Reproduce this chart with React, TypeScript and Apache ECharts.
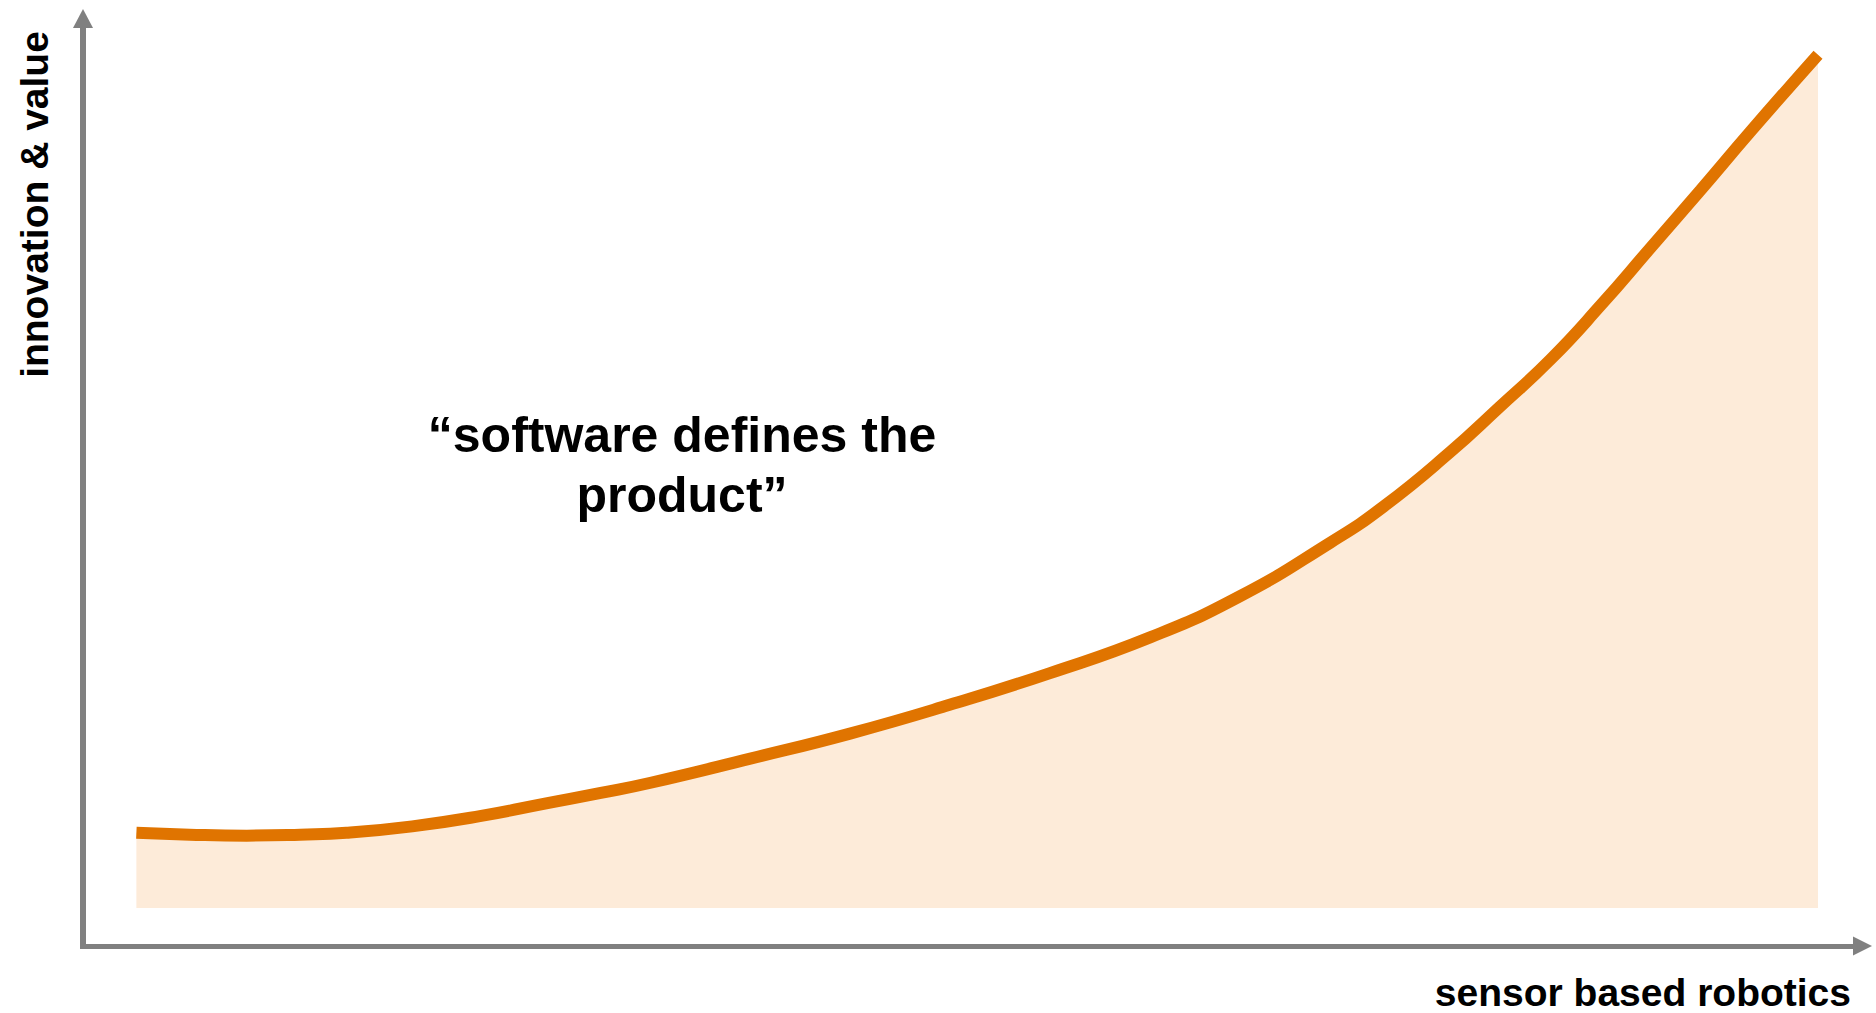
import React, { useEffect, useRef } from "react";
import * as echarts from "echarts";

// Curve (x: 0..100 along the horizontal axis, y: 0..100 along the vertical axis)
const xValues = [3.0, 6.0, 9.2, 12.2, 14.8, 18.5, 22.3, 26.1, 29.1, 31.9, 37.5, 43.1, 48.7, 54.3, 60.0, 65.0, 70.1, 73.1, 76.8, 79.6, 82.5, 85.3, 88.1, 90.9, 93.7, 97.5];
const yValues = [12.2, 12.0, 11.9, 12.0, 12.2, 12.9, 14.0, 15.4, 16.5, 17.6, 20.2, 22.9, 26.0, 29.4, 33.3, 37.7, 43.5, 47.4, 53.2, 58.1, 63.3, 69.1, 75.3, 81.5, 87.8, 96.1];
const areaBase = 4.1;

const xAxisLabel = "sensor based robotics";
const yAxisLabel = "innovation & value";
const annotation = "\u201csoftware defines the\nproduct\u201d";

const FONT = '"Liberation Sans", Arial, Helvetica, sans-serif';

export default function App() {
  const ref = useRef<HTMLDivElement>(null);

  useEffect(() => {
    if (!ref.current) return;
    const chart = echarts.init(ref.current, null, { renderer: "svg" });
    const data = xValues.map((x, i) => [x, yValues[i]]);
    const axisCommon = {
      type: "value" as const,
      min: 0,
      max: 100,
      axisTick: { show: false },
      axisLabel: { show: false },
      splitLine: { show: false },
    };
    chart.setOption({
      animation: false,
      backgroundColor: "#ffffff",
      grid: { left: 83, right: 13.5, top: 18.5, bottom: 67, outerBoundsMode: "none", containLabel: false },
      xAxis: {
        ...axisCommon,
        axisLine: {
          show: true,
          onZero: false,
          symbol: ["none", "triangle"],
          symbolSize: [19, 19],
          lineStyle: { color: "#808080", width: 5, cap: "square" },
        },
      },
      yAxis: {
        ...axisCommon,
        axisLine: {
          show: true,
          onZero: false,
          symbol: ["none", "triangle"],
          symbolSize: [20, 19],
          lineStyle: { color: "#808080", width: 6, cap: "square" },
        },
      },
      series: [
        {
          type: "line",
          data,
          smooth: 0.5,
          showSymbol: false,
          symbol: "none",
          lineStyle: { color: "#E07400", width: 12, cap: "butt" },
          areaStyle: { color: "#FDEBD9", opacity: 1, origin: areaBase },
          z: 2,
        },
      ],
      graphic: [
        {
          type: "text",
          x: 682,
          y: 465,
          style: {
            text: annotation,
            fill: "#000000",
            fontSize: 50,
            fontWeight: "bold",
            fontFamily: FONT,
            lineHeight: 60,
            textAlign: "center",
            textVerticalAlign: "middle",
            align: "center",
            verticalAlign: "middle",
          },
        },
        {
          type: "text",
          x: 1851,
          y: 992,
          style: {
            text: xAxisLabel,
            fill: "#000000",
            fontSize: 39,
            fontWeight: "bold",
            fontFamily: FONT,
            textAlign: "right",
            textVerticalAlign: "middle",
            align: "right",
            verticalAlign: "middle",
          },
        },
        {
          type: "text",
          x: 34.5,
          y: 204.5,
          rotation: Math.PI / 2,
          style: {
            text: yAxisLabel,
            fill: "#000000",
            fontSize: 39,
            fontWeight: "bold",
            fontFamily: FONT,
            textAlign: "center",
            textVerticalAlign: "middle",
            align: "center",
            verticalAlign: "middle",
          },
        },
      ],
    });
    return () => chart.dispose();
  }, []);

  return (
    <div
      ref={ref}
      style={{ position: "fixed", left: 0, top: 0, width: 1876, height: 1013, background: "#ffffff" }}
    />
  );
}
